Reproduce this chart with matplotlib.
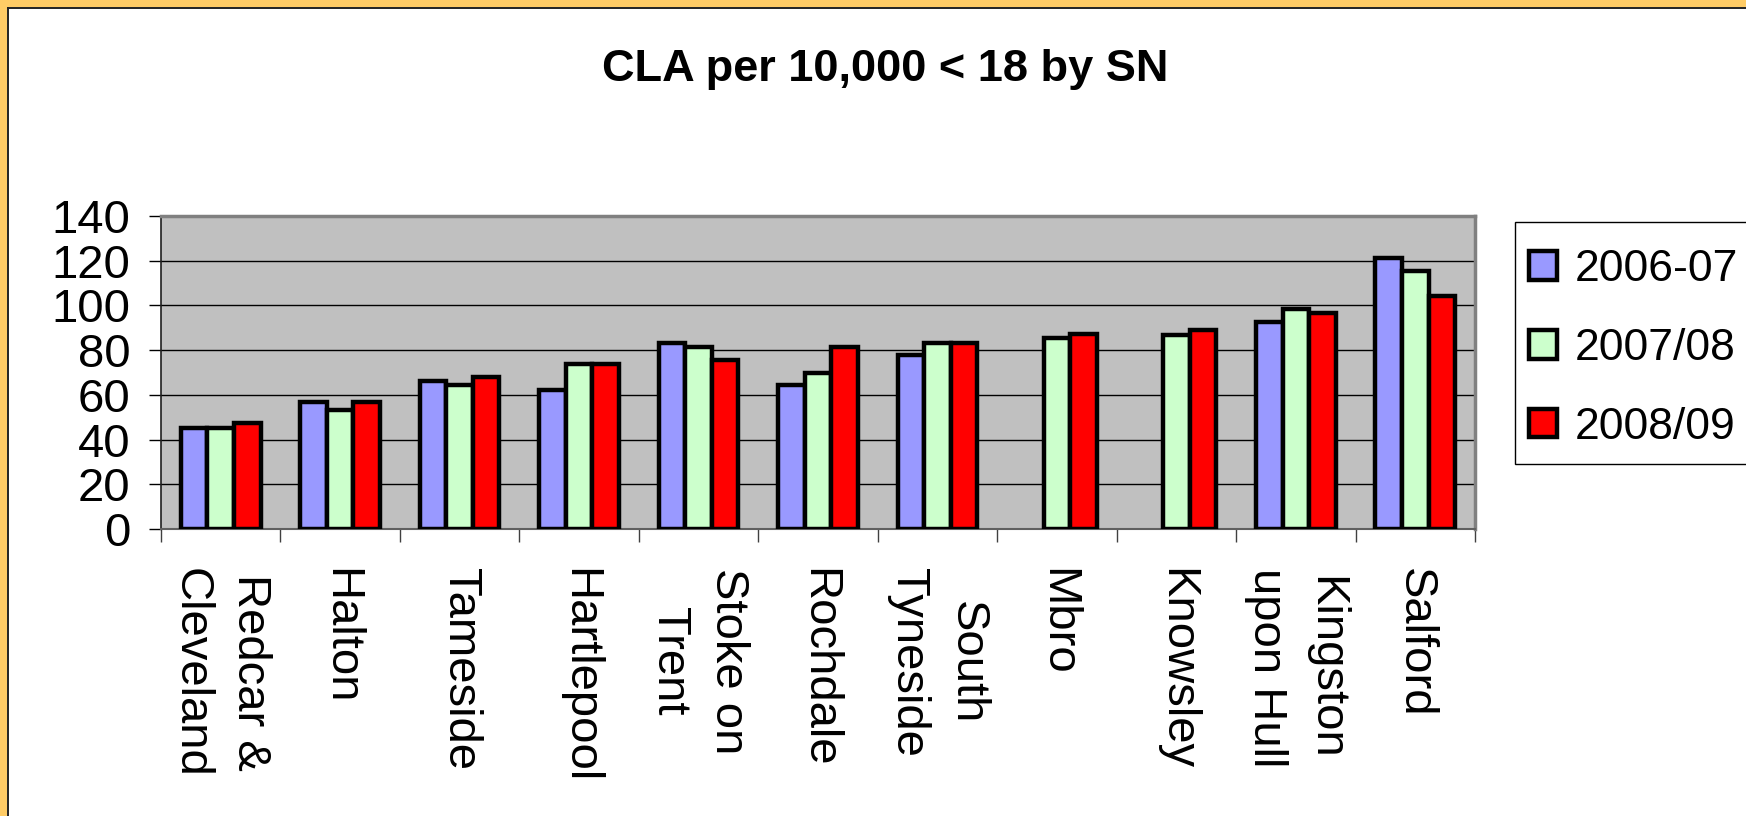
import numpy as np
import matplotlib
matplotlib.use("Agg")
import matplotlib.pyplot as plt
from matplotlib.patches import Rectangle

# data
areas = ["Redcar &\nCleveland", "Halton", "Tameside", "Hartlepool", "Stoke on\nTrent",
         "Rochdale", "South\nTyneside", "Mbro", "Knowsley", "Kingston\nupon Hull", "Salford"]
series_names = ["2006-07", "2007/08", "2008/09"]
v_2006_07 = [45.3, 56.8, 66.2, 62.3, 83.0, 64.3, 77.7, np.nan, np.nan, 92.6, 121.0]
v_2007_08 = [45.3, 53.2, 64.3, 73.8, 81.5, 69.9, 83.3, 85.4, 86.9, 98.4, 115.6]
v_2008_09 = [47.5, 56.8, 68.1, 73.8, 75.6, 81.5, 83.3, 87.1, 89.0, 96.5, 104.0]
colors = ["#9999FF", "#CCFFCC", "#FF0000"]
yticks = [0, 20, 40, 60, 80, 100, 120, 140]

W, H = 1746, 816
plt.rcParams["font.family"] = ["Liberation Sans", "DejaVu Sans"]

fig = plt.figure(figsize=(W / 100, H / 100), dpi=100, facecolor="white")

# orange frame (top and left only, the rest is cropped) with thin black inner line
fig.patches.append(Rectangle((0, 1 - 7 / H), 1, 7 / H, transform=fig.transFigure,
                             facecolor="#FFCC66", edgecolor="none", zorder=0))
fig.patches.append(Rectangle((0, 0), 7 / W, 1, transform=fig.transFigure,
                             facecolor="#FFCC66", edgecolor="none", zorder=0))
fig.add_artist(plt.Line2D([7.5 / W, 1], [1 - 8 / H, 1 - 8 / H], transform=fig.transFigure,
                          color="#222222", lw=1.4))
fig.add_artist(plt.Line2D([7.5 / W, 7.5 / W], [0, 1 - 8 / H], transform=fig.transFigure,
                          color="#222222", lw=1.4))

left, right, top, bottom = 161, 1475, 216, 529
ax = fig.add_axes([left / W, 1 - bottom / H, (right - left) / W, (bottom - top) / H])
ax.set_facecolor("#C0C0C0")

x = np.arange(len(areas))
width = 0.222
for i, (vals, name, c) in enumerate(zip([v_2006_07, v_2007_08, v_2008_09], series_names, colors)):
    ax.bar(x + (i - 1) * width, vals, width, color=c, edgecolor="black", linewidth=3.2,
           label=name, zorder=3)

ax.set_xlim(-0.5, len(areas) - 0.5)
ax.set_ylim(0, 140)
ax.set_yticks(yticks)
ax.set_yticklabels([str(t) for t in yticks], fontsize=34)
ax.tick_params(axis="y", length=9, width=1, color="black", pad=13, direction="out")
ax.yaxis.grid(True, color="black", lw=1.0)
ax.set_axisbelow(True)

ax.set_xticks(x)
ax.set_xticklabels(areas, rotation=-90, fontsize=34, multialignment="center", linespacing=1.45)
ax.tick_params(axis="x", which="major", length=0, pad=28)
ax.set_xticks(np.arange(len(areas) + 1) - 0.5, minor=True)
ax.tick_params(axis="x", which="minor", length=9, width=1, color="#404040", direction="out")

for s in ("top", "right"):
    ax.spines[s].set_color("#808080")
    ax.spines[s].set_linewidth(2.5)
ax.spines["left"].set_color("#202020")
ax.spines["left"].set_linewidth(1.2)
ax.spines["bottom"].set_color("#606060")
ax.spines["bottom"].set_linewidth(1.5)

fig.text(885 / W, 1 - 69 / H, "CLA per 10,000 < 18 by SN", fontsize=32.5, fontweight="bold",
         ha="center", va="center")

# legend box drawn separately, it runs off the right edge like the reference
fig.patches.append(Rectangle((1515 / W, 1 - 464 / H), 260 / W, 242 / H, transform=fig.transFigure,
                             facecolor="white", edgecolor="black", lw=1.0, zorder=1))
leg = fig.legend(loc="upper left", bbox_to_anchor=(1529 / W, 1 - 249 / H), fontsize=32,
                 frameon=False, handlelength=0.62, handleheight=0.62, handletextpad=0.42,
                 labelspacing=0.85, borderpad=0, borderaxespad=0)
for h in leg.legend_handles:
    h.set_linewidth(3.2)

fig.savefig("out.png", dpi=100, facecolor="white")
